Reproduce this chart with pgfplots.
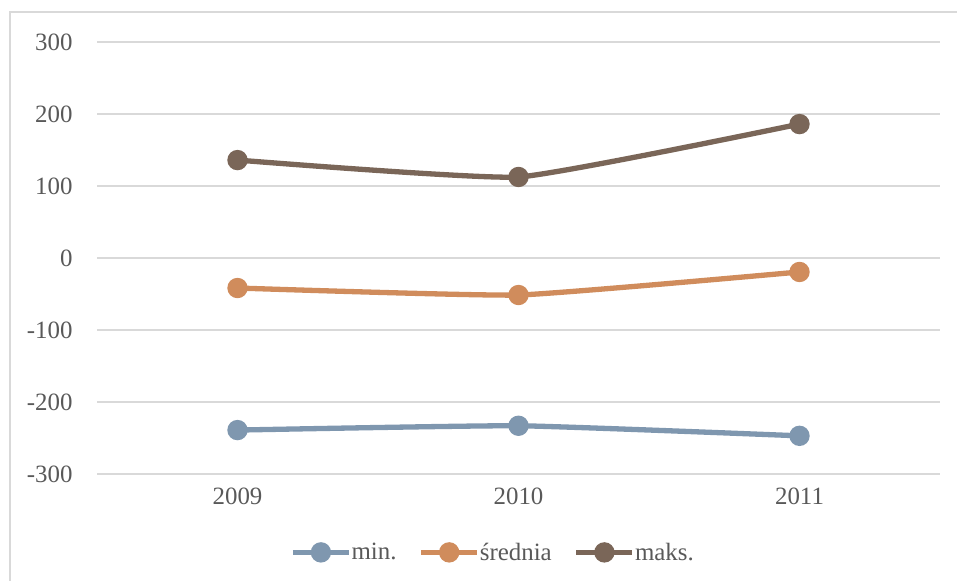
\documentclass[border=0pt]{standalone}
\usepackage{pgfplots}
\pgfplotsset{compat=1.18}
\usepackage{fontspec}
\setmainfont{Liberation Serif}
\definecolor{cmin}{HTML}{7F97AF}
\definecolor{csr}{HTML}{D08C5C}
\definecolor{cmax}{HTML}{7A6658}
\definecolor{txt}{HTML}{595959}
\definecolor{grd}{HTML}{D9D9D9}
\begin{document}
\begin{tikzpicture}[x=1bp,y=1bp]
\path[use as bounding box] (0,0) rectangle (957,581);
\draw[grd,line width=1.5bp] (10,0) -- (10,569) -- (957,569);
\begin{axis}[
  at={(97bp,107bp)}, anchor=south west,
  scale only axis, width=843bp, height=432bp,
  xmin=-0.5, xmax=2.5, ymin=-300, ymax=300,
  xtick={0,1,2}, xticklabels={2009,2010,2011},
  ytick={-300,-200,...,300},
  ymajorgrids, grid style={grd,line width=1.5bp},
  axis line style={draw=none},
  major tick length=0pt,
  tick label style={font=\fontsize{25}{29}\selectfont, text=txt},
  /pgf/number format/assume math mode=true,
  yticklabel style={xshift=-21bp},
  xticklabel style={yshift=-10bp},
  legend style={at={(0.4698,-0.15)}, anchor=north, draw=none, fill=none,
    font=\fontsize{25}{29}\selectfont, text=txt, legend columns=3,
    /tikz/every even column/.append style={column sep=20bp},
    /tikz/every odd column/.append style={column sep=-2bp}},
  legend image code/.code={
    \draw[#1, mark repeat=2, mark phase=2] plot coordinates {(0bp,0bp)(28bp,0bp)(56bp,0bp)};
  },
  every axis plot/.append style={line width=5.3bp, smooth, tension=0.25, mark=*, mark size=7.5bp},
]
\addplot[cmin, mark options={fill=cmin, draw=none}] coordinates {(0,-239) (1,-233) (2,-247)};
\addlegendentry{min.}
\addplot[csr, mark options={fill=csr, draw=none}] coordinates {(0,-41.7) (1,-51.4) (2,-19.4)};
\addlegendentry{średnia}
\addplot[cmax, mark options={fill=cmax, draw=none}] coordinates {(0,136) (1,112.5) (2,186)};
\addlegendentry{maks.}
\end{axis}
\end{tikzpicture}
\end{document}
